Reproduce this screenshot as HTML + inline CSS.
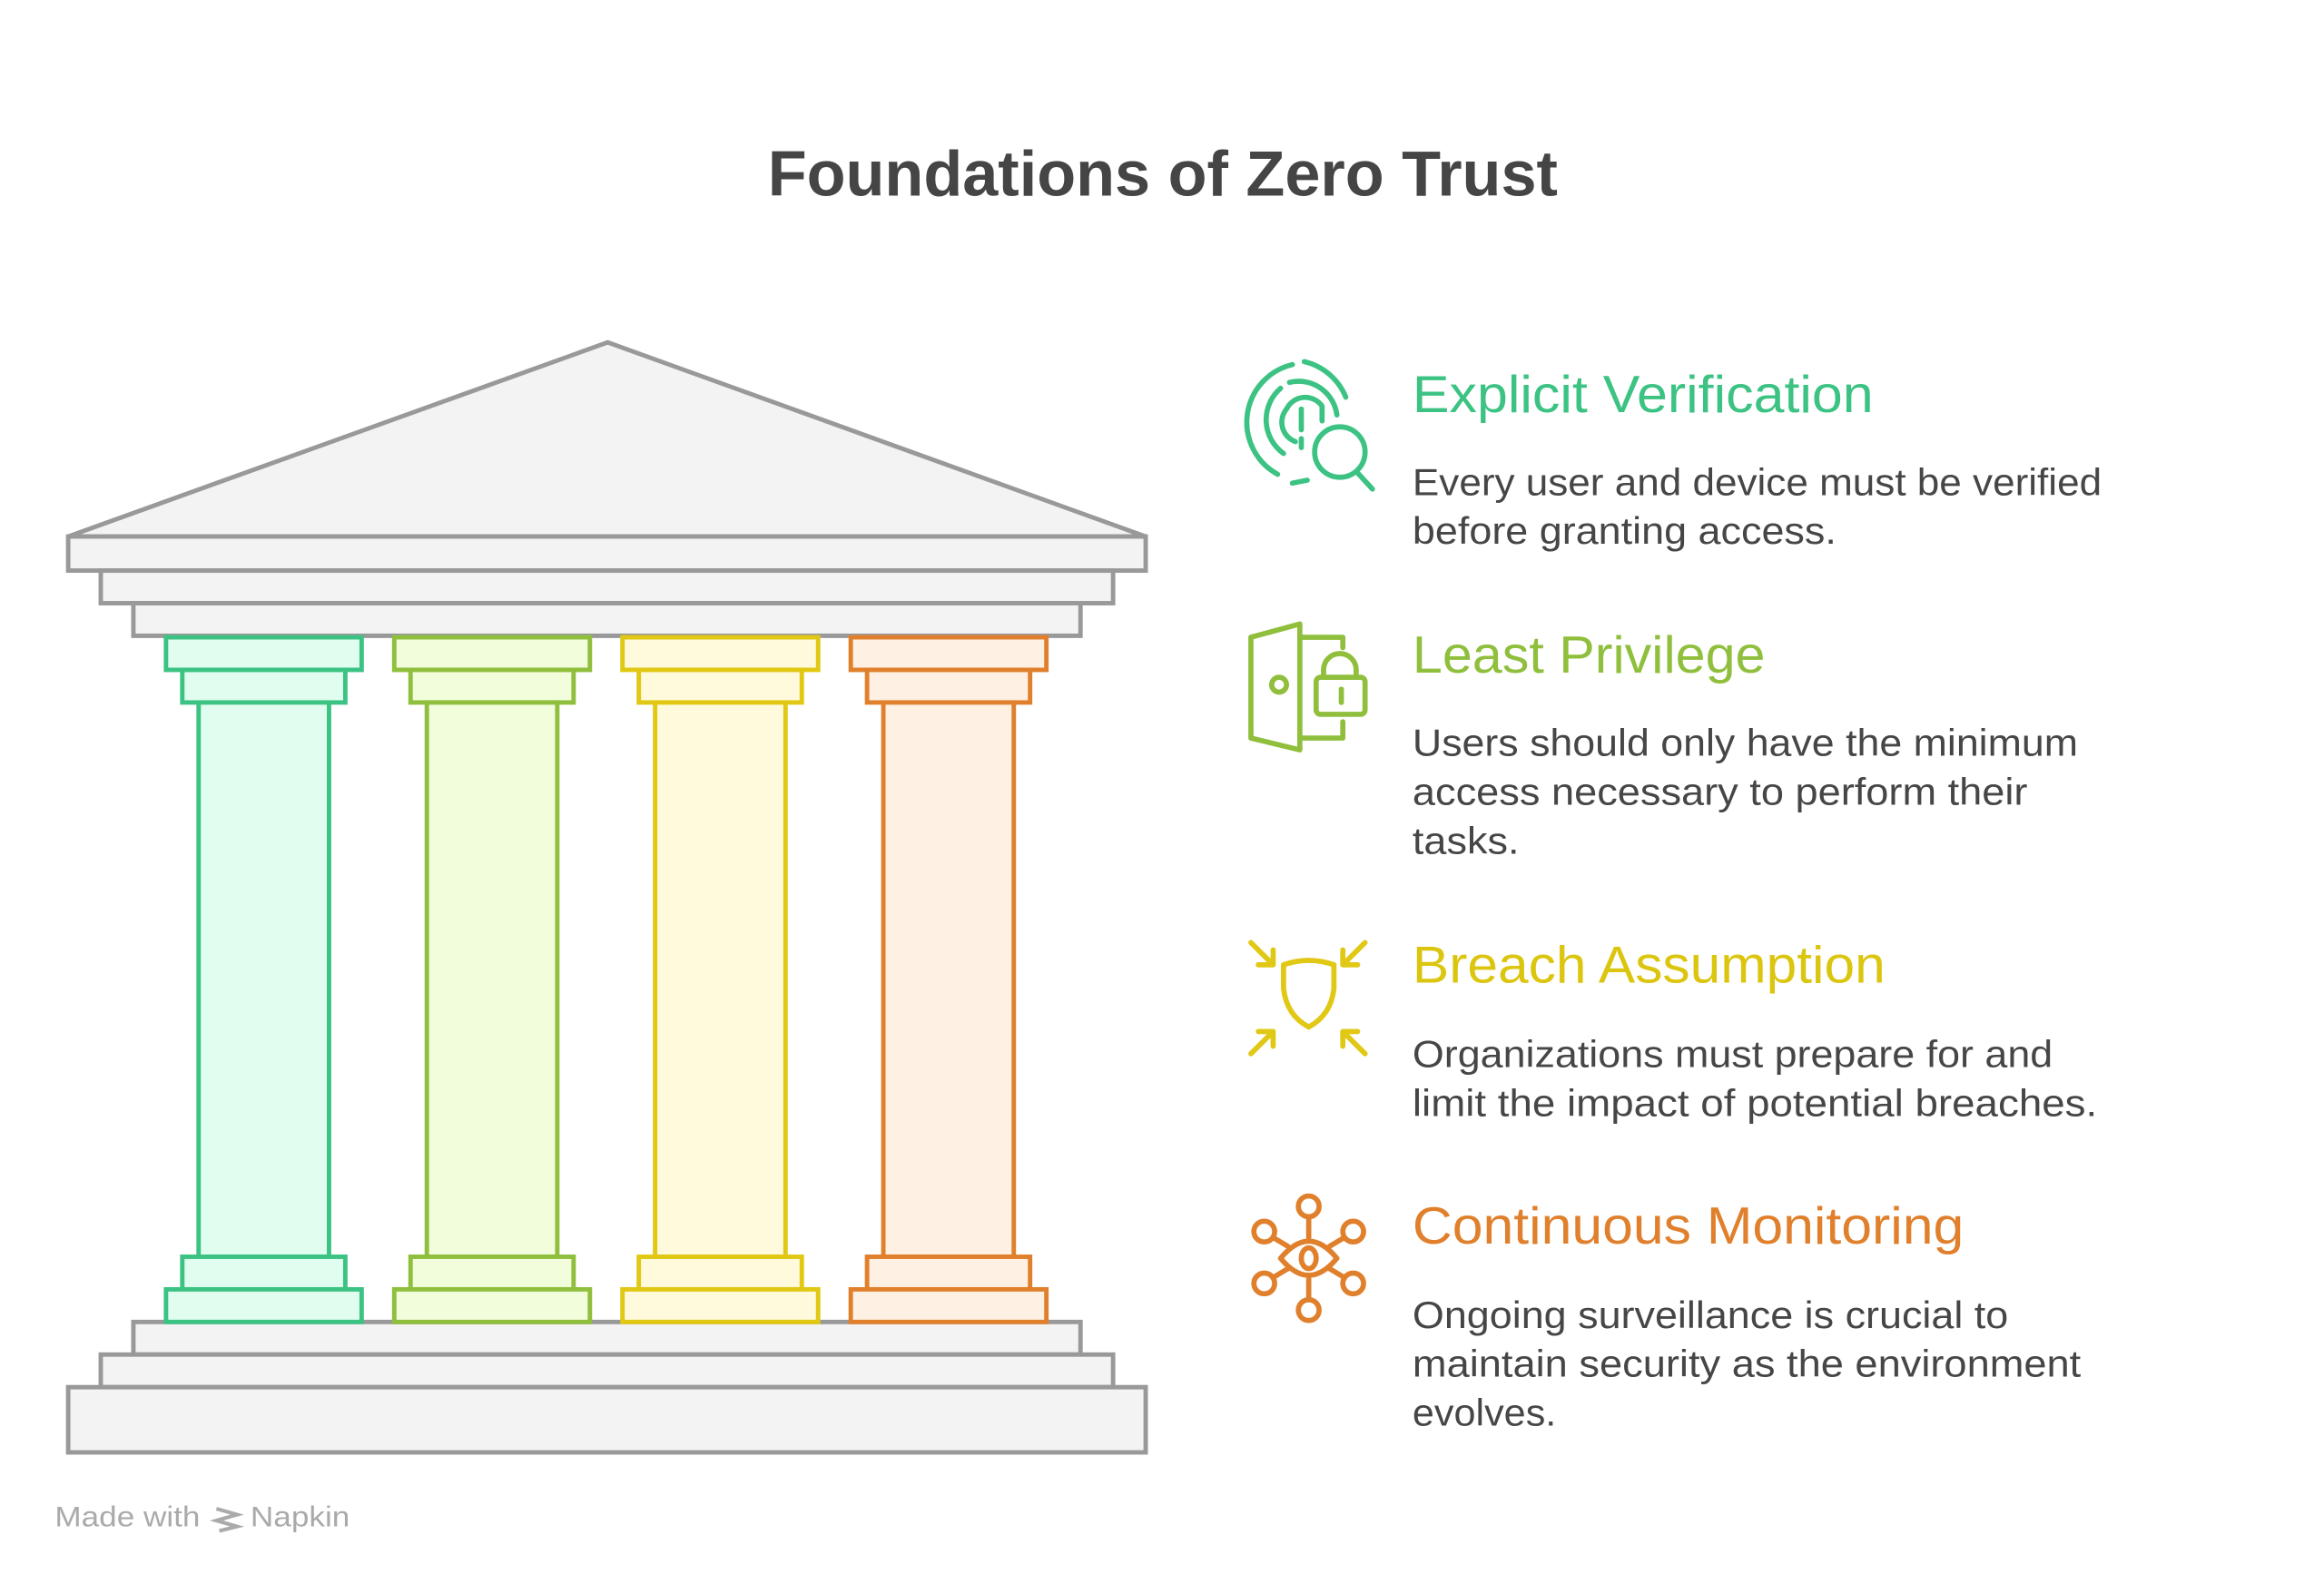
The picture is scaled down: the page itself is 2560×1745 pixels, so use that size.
<!DOCTYPE html>
<html><head><meta charset="utf-8"><style>html,body{margin:0;padding:0;background:#fff}svg{display:block}</style></head><body>
<svg width="2560" height="1745" viewBox="0 0 1568 1068.8" xmlns="http://www.w3.org/2000/svg" font-family="Liberation Sans, sans-serif">
<rect width="1568" height="1069" fill="#fff"/>
<text x="518" y="132" font-size="43" font-weight="bold" fill="#454545" textLength="533" lengthAdjust="spacingAndGlyphs">Foundations of Zero Trust</text>
<g stroke="#999" stroke-width="3" fill="#f3f3f3">
<polygon points="46,362 410,231 773,362"/>
<rect x="46" y="362" width="727" height="23"/>
<rect x="68" y="385" width="683" height="22"/>
<rect x="90" y="407" width="639" height="22"/>
<rect x="90" y="892" width="639" height="22"/>
<rect x="68" y="914" width="683" height="22"/>
<rect x="46" y="936" width="727" height="44"/>
</g>
<g stroke-width="3">
<g stroke="#3cc383" fill="#e0fdf0">
<rect x="112" y="430" width="132" height="22"/><rect x="123" y="452" width="110" height="22"/><rect x="134" y="474" width="88" height="374"/><rect x="123" y="848" width="110" height="22"/><rect x="112" y="870" width="132" height="22"/></g>
<g stroke="#8fbf3c" fill="#f2fddb" transform="translate(154,0)">
<rect x="112" y="430" width="132" height="22"/><rect x="123" y="452" width="110" height="22"/><rect x="134" y="474" width="88" height="374"/><rect x="123" y="848" width="110" height="22"/><rect x="112" y="870" width="132" height="22"/></g>
<g stroke="#e0c814" fill="#fefadb" transform="translate(308,0)">
<rect x="112" y="430" width="132" height="22"/><rect x="123" y="452" width="110" height="22"/><rect x="134" y="474" width="88" height="374"/><rect x="123" y="848" width="110" height="22"/><rect x="112" y="870" width="132" height="22"/></g>
<g stroke="#e0802c" fill="#fef0e3" transform="translate(462,0)">
<rect x="112" y="430" width="132" height="22"/><rect x="123" y="452" width="110" height="22"/><rect x="134" y="474" width="88" height="374"/><rect x="123" y="848" width="110" height="22"/><rect x="112" y="870" width="132" height="22"/></g>
</g>
<g fill="none" stroke-width="3.5" stroke-linecap="round" stroke-linejoin="round">
<g stroke="#3cc383">
<path d="M862,320 A40,40 0 0 1 872,246"/><path d="M880,244 A40,40 0 0 1 908,268"/>
<path d="M866,306 A28,28 0 0 1 864,262"/><path d="M870,258 A26,26 0 0 1 902,280"/>
<path d="M874,298 A14,14 0 0 1 868,276 A14,14 0 0 1 892,274 L892,284"/>
<line x1="878" y1="276" x2="878" y2="290"/><line x1="878" y1="296" x2="878" y2="302"/>
<path d="M872,326 L882,324"/>
<circle cx="904" cy="305" r="17"/><line x1="915" y1="318" x2="926" y2="330"/>
</g>
<g stroke="#8fbf3c">
<polygon points="844,430 877,421 877,506 844,498"/>
<path d="M877,430 L906,430 L906,437"/><path d="M906,487 L906,498 L877,498"/>
<circle cx="863" cy="462" r="5"/>
<rect x="888" y="457" width="33" height="25" rx="3"/><path d="M893,457 L893,452 A11,11 0 0 1 915,452 L915,457"/>
<line x1="905" y1="465" x2="905" y2="474"/>
</g>
<g stroke="#e0c814">
<path d="M866,651 L866,667 Q868,685 883,693 Q898,685 900,667 L900,651 Q883,645 866,651 Z"/>
<path d="M844,636 L859,651 M849,651 L859,651 L859,641"/>
<path d="M921,636 L906,651 M906,641 L906,651 L916,651"/>
<path d="M844,711 L859,696 M849,696 L859,696 L859,706"/>
<path d="M921,711 L906,696 M906,706 L906,696 L916,696"/>
</g>
<g stroke="#e0802c">
<path d="M864,849 Q883,826 902,849 Q883,872 864,849 Z"/><ellipse cx="883" cy="849" rx="5" ry="7"/>
<circle cx="883" cy="814" r="7"/><line x1="883" y1="821" x2="883" y2="835"/>
<circle cx="883" cy="884" r="7"/><line x1="883" y1="863" x2="883" y2="877"/>
<circle cx="853" cy="831" r="7"/><line x1="859" y1="835" x2="869" y2="841"/>
<circle cx="913" cy="831" r="7"/><line x1="907" y1="835" x2="897" y2="841"/>
<circle cx="853" cy="866" r="7"/><line x1="859" y1="862" x2="869" y2="856"/>
<circle cx="913" cy="866" r="7"/><line x1="907" y1="862" x2="897" y2="856"/>
</g>
</g>
<g font-size="35" lengthAdjust="spacingAndGlyphs">
<text x="953" y="278" fill="#3cc383" textLength="311" lengthAdjust="spacingAndGlyphs">Explicit Verification</text>
<text x="953" y="454" fill="#8fbf3c" textLength="238" lengthAdjust="spacingAndGlyphs">Least Privilege</text>
<text x="953" y="663" fill="#dcc50f" textLength="319" lengthAdjust="spacingAndGlyphs">Breach Assumption</text>
<text x="953" y="839" fill="#e0802c" textLength="372" lengthAdjust="spacingAndGlyphs">Continuous Monitoring</text>
</g>
<g font-size="25.5" fill="#464646">
<text x="953" y="334" textLength="465" lengthAdjust="spacingAndGlyphs">Every user and device must be verified</text>
<text x="953" y="367" textLength="286" lengthAdjust="spacingAndGlyphs">before granting access.</text>
<text x="953" y="510" textLength="449" lengthAdjust="spacingAndGlyphs">Users should only have the minimum</text>
<text x="953" y="543" textLength="415" lengthAdjust="spacingAndGlyphs">access necessary to perform their</text>
<text x="953" y="576" textLength="72" lengthAdjust="spacingAndGlyphs">tasks.</text>
<text x="953" y="720" textLength="432" lengthAdjust="spacingAndGlyphs">Organizations must prepare for and</text>
<text x="953" y="753" textLength="462" lengthAdjust="spacingAndGlyphs">limit the impact of potential breaches.</text>
<text x="953" y="896" textLength="402" lengthAdjust="spacingAndGlyphs">Ongoing surveillance is crucial to</text>
<text x="953" y="929" textLength="451" lengthAdjust="spacingAndGlyphs">maintain security as the environment</text>
<text x="953" y="962" textLength="97" lengthAdjust="spacingAndGlyphs">evolves.</text>
</g>
<text x="37" y="1030" font-size="19" fill="#aaa" textLength="98" lengthAdjust="spacingAndGlyphs">Made with</text>
<path d="M146,1018 L160,1022 L146,1026 L160,1030 L148,1033" stroke="#aaa" stroke-width="2.5" fill="none"/>
<text x="169" y="1030" font-size="19" fill="#aaa" textLength="67" lengthAdjust="spacingAndGlyphs">Napkin</text>
</svg>
</body></html>
